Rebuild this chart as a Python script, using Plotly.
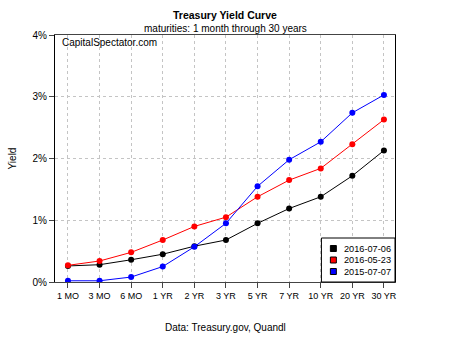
import plotly.graph_objects as go

maturities = ["1 MO", "3 MO", "6 MO", "1 YR", "2 YR", "3 YR", "5 YR", "7 YR", "10 YR", "20 YR", "30 YR"]
dates = ["2016-07-06", "2016-05-23", "2015-07-07"]
y_2016_07_06 = [0.26, 0.28, 0.36, 0.45, 0.58, 0.68, 0.95, 1.19, 1.38, 1.72, 2.13]
y_2016_05_23 = [0.27, 0.34, 0.48, 0.68, 0.90, 1.05, 1.38, 1.65, 1.84, 2.23, 2.63]
y_2015_07_07 = [0.02, 0.02, 0.08, 0.25, 0.57, 0.95, 1.55, 1.98, 2.27, 2.74, 3.03]
y_ticks = [0, 1, 2, 3, 4]
y_tick_labels = ["0%", "1%", "2%", "3%", "4%"]

series = [y_2016_07_06, y_2016_05_23, y_2015_07_07]
colors = ["#000000", "#FF0000", "#0000FF"]

W, H = 450, 338
L, R, T, B = 53, 395, 35, 282

def px(x):
    return (x - L) / (R - L)

def py(y):
    return (B - y) / (B - T)

fig = go.Figure()
idx = list(range(len(maturities)))
for name, vals, c in zip(dates, series, colors):
    fig.add_trace(go.Scatter(
        x=idx, y=vals, mode="lines+markers", name=name, showlegend=False,
        line=dict(color=c, width=1),
        marker=dict(color=c, size=6, symbol="circle"),
        hoverinfo="skip",
    ))

font = "Liberation Sans, Arial, sans-serif"

# manual compact legend (R-style)
legend_rows = [248.5, 260, 271.5]
annotations = [
    dict(text="<b>Treasury Yield Curve</b>", x=px(224), y=py(15), xref="paper", yref="paper",
         showarrow=False, font=dict(size=10.5), xanchor="center", yanchor="middle"),
    dict(text="maturities: 1 month through 30 years", x=px(224), y=py(28), xref="paper", yref="paper",
         showarrow=False, font=dict(size=10), xanchor="center", yanchor="middle"),
    dict(text="CapitalSpectator.com", x=px(58), y=py(43), xref="paper", yref="paper",
         showarrow=False, font=dict(size=10), xanchor="left", yanchor="middle"),
    dict(text="Data: Treasury.gov, Quandl", x=px(224), y=py(327), xref="paper", yref="paper",
         showarrow=False, font=dict(size=10), xanchor="center", yanchor="middle"),
]
shapes = [
    dict(type="rect", xref="paper", yref="paper", x0=px(321), x1=px(395), y0=py(282), y1=py(238),
         line=dict(color="black", width=1), fillcolor="white", layer="above"),
]
for name, c, ry in zip(dates, colors, legend_rows):
    shapes.append(dict(type="rect", xref="paper", yref="paper",
                       x0=px(330), x1=px(336), y0=py(ry + 3), y1=py(ry - 3),
                       line=dict(color="black", width=1), fillcolor=c, layer="above"))
    annotations.append(dict(text=name, x=px(342), y=py(ry), xref="paper", yref="paper",
                            showarrow=False, font=dict(size=9.2), xanchor="left", yanchor="middle"))

fig.update_layout(
    width=W, height=H,
    margin=dict(l=L, r=W - R, t=T, b=H - B),
    paper_bgcolor="white", plot_bgcolor="white",
    font=dict(family=font, color="black", size=10),
    showlegend=False,
    xaxis=dict(
        range=[-0.41, 10.35], tickmode="array", tickvals=idx, ticktext=maturities,
        showgrid=True, gridcolor="#C4C4C4", griddash="dot", gridwidth=1,
        showline=True, linecolor="#444444", linewidth=1, mirror=True,
        ticks="outside", ticklen=5, tickcolor="#444444",
        tickfont=dict(size=9), zeroline=False, fixedrange=True,
    ),
    yaxis=dict(
        range=[0, 4], tickmode="array", tickvals=y_ticks, ticktext=y_tick_labels,
        showgrid=True, gridcolor="#C4C4C4", griddash="dot", gridwidth=1,
        showline=True, linecolor="black", linewidth=1, mirror=True,
        ticks="outside", ticklen=5, tickcolor="#444444",
        tickfont=dict(size=10), zeroline=False, fixedrange=True,
        title=dict(text="Yield", font=dict(size=10), standoff=14),
    ),
    annotations=annotations,
    shapes=shapes,
)

fig.write_html("out.html")
